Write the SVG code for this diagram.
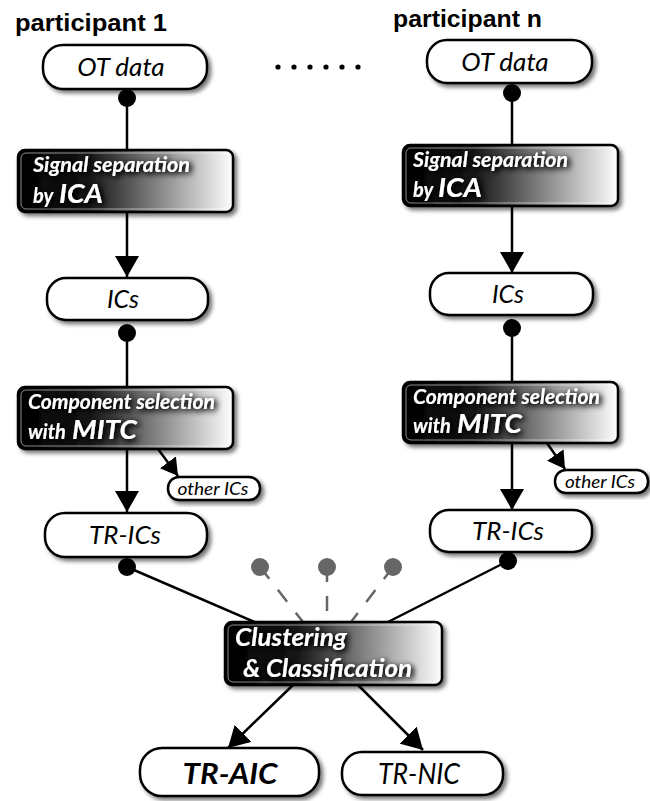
<svg xmlns="http://www.w3.org/2000/svg" width="650" height="801" viewBox="0 0 650 801">
<defs>
<linearGradient id="dark" x1="0" y1="0" x2="1" y2="0">
<stop offset="0" stop-color="#000"/>
<stop offset="0.33" stop-color="#151515"/>
<stop offset="0.97" stop-color="#f4f4f4"/>
<stop offset="1" stop-color="#fafafa"/>
</linearGradient>
<filter id="shadow" x="-10%" y="-20%" width="130%" height="150%">
<feDropShadow dx="3" dy="3" stdDeviation="2" flood-color="#000" flood-opacity="0.55"/>
</filter>
<filter id="glow" x="-20%" y="-40%" width="140%" height="180%">
<feGaussianBlur in="SourceAlpha" stdDeviation="3" result="b"/>
<feOffset in="b" dx="2" dy="2" result="o"/>
<feComponentTransfer in="o" result="o2"><feFuncA type="linear" slope="1.6"/></feComponentTransfer>
<feMerge><feMergeNode in="o2"/><feMergeNode in="SourceGraphic"/></feMerge>
</filter>
<marker id="arr" markerUnits="userSpaceOnUse" markerWidth="24" markerHeight="24" refX="21" refY="12" orient="auto">
<path d="M0,0 L21,12 L0,24 z" fill="#000"/>
</marker>
<marker id="arrs" markerUnits="userSpaceOnUse" markerWidth="20" markerHeight="20" refX="17" refY="10" orient="auto">
<path d="M0,0 L17,10 L0,20 z" fill="#000"/>
</marker>
<style>
.pill{fill:#fff;stroke:#000;stroke-width:2.5;filter:url(#shadow)}
.box{fill:url(#dark);stroke:#000;stroke-width:2.5;filter:url(#shadow)}
.inner{fill:none;stroke:#fff;stroke-opacity:0.55;stroke-width:1}
.pt{font-family:Lato,"Open Sans",sans-serif;font-style:italic;fill:#000;text-anchor:middle}
.bt{font-family:Lato,"Open Sans",sans-serif;font-style:italic;font-weight:bold;fill:#fff;filter:url(#glow)}
.hd{font-family:"Liberation Sans",Arial,sans-serif;font-weight:bold;font-size:24px;fill:#000}
.ln{stroke:#000;stroke-width:2.5;fill:none}
.ga{stroke:#666;stroke-width:2.5;fill:none;stroke-dasharray:15 14}
</style>
</defs>

<text class="hd" x="15" y="31" textLength="152" lengthAdjust="spacingAndGlyphs">participant 1</text>
<text class="hd" x="393" y="27" textLength="149" lengthAdjust="spacingAndGlyphs">participant n</text>
<g id="ellipsis" fill="#000">
<circle cx="278" cy="67" r="2.6"/><circle cx="294" cy="67" r="2.6"/><circle cx="310" cy="67" r="2.6"/><circle cx="326" cy="67" r="2.6"/><circle cx="342" cy="67" r="2.6"/><circle cx="358" cy="67" r="2.6"/>
</g>

<g id="connectors">
<line class="ln" x1="127" y1="98" x2="127" y2="150"/>
<line class="ln" x1="127" y1="212" x2="127" y2="277" marker-end="url(#arr)"/>
<line class="ln" x1="127" y1="333" x2="127" y2="387"/>
<line class="ln" x1="127" y1="449" x2="127" y2="512" marker-end="url(#arr)"/>
<line class="ln" x1="158" y1="449" x2="178" y2="476" marker-end="url(#arrs)"/>
<line class="ln" x1="127" y1="567" x2="257" y2="623"/>
<line class="ln" x1="512" y1="93" x2="512" y2="145"/>
<line class="ln" x1="512" y1="206" x2="512" y2="273" marker-end="url(#arr)"/>
<line class="ln" x1="512" y1="328" x2="512" y2="382"/>
<line class="ln" x1="512" y1="443" x2="512" y2="510" marker-end="url(#arr)"/>
<line class="ln" x1="547" y1="443" x2="565" y2="469" marker-end="url(#arrs)"/>
<line class="ln" x1="508" y1="561" x2="386" y2="623"/>
<line class="ga" x1="260" y1="567" x2="303" y2="622"/>
<line class="ga" x1="327" y1="567" x2="327" y2="622"/>
<line class="ga" x1="393" y1="567" x2="351" y2="622"/>
<line class="ln" x1="293" y1="685" x2="228" y2="748" marker-end="url(#arr)"/>
<line class="ln" x1="358" y1="685" x2="423" y2="750" marker-end="url(#arr)"/>
<circle cx="127" cy="98" r="9" fill="#000"/>
<circle cx="127" cy="333" r="9" fill="#000"/>
<circle cx="127" cy="567" r="9" fill="#000"/>
<circle cx="512" cy="93" r="9" fill="#000"/>
<circle cx="512" cy="328" r="9" fill="#000"/>
<circle cx="508" cy="561" r="9" fill="#000"/>
<circle cx="260" cy="567" r="9" fill="#666"/>
<circle cx="327" cy="567" r="9" fill="#666"/>
<circle cx="393" cy="567" r="9" fill="#666"/>
</g>

<g id="ot1"><rect class="pill" x="43" y="45" width="164" height="44" rx="20"/><text class="pt" x="121" y="76" font-size="26">OT data</text></g>
<g id="otn"><rect class="pill" x="427" y="40" width="165" height="43" rx="20"/><text class="pt" x="505" y="71" font-size="26">OT data</text></g>

<g id="ica1"><rect class="box" x="18" y="150" width="215" height="62" rx="7"/><rect class="inner" x="21" y="153" width="209" height="56" rx="5"/>
<text class="bt"><tspan x="33" y="172" font-size="20" textLength="157" lengthAdjust="spacingAndGlyphs">Signal separation</tspan><tspan x="33" y="203" font-size="20">by</tspan><tspan x="59" y="203" font-size="26" textLength="44" lengthAdjust="spacingAndGlyphs">ICA</tspan></text></g>
<g id="ican"><rect class="box" x="403" y="145" width="215" height="61" rx="7"/><rect class="inner" x="406" y="148" width="209" height="55" rx="5"/>
<text class="bt"><tspan x="413" y="167" font-size="20" textLength="155" lengthAdjust="spacingAndGlyphs">Signal separation</tspan><tspan x="413" y="197" font-size="20">by</tspan><tspan x="438" y="197" font-size="26" textLength="44" lengthAdjust="spacingAndGlyphs">ICA</tspan></text></g>

<g id="ics1"><rect class="pill" x="47" y="278" width="161" height="42" rx="19"/><text class="pt" x="123" y="308" font-size="25">ICs</text></g>
<g id="icsn"><rect class="pill" x="430" y="273" width="163" height="42" rx="19"/><text class="pt" x="508" y="303" font-size="25">ICs</text></g>

<g id="mitc1"><rect class="box" x="18" y="387" width="215" height="62" rx="7"/><rect class="inner" x="21" y="390" width="209" height="56" rx="5"/>
<text class="bt"><tspan x="28" y="409" font-size="20" textLength="187" lengthAdjust="spacingAndGlyphs">Component selection</tspan><tspan x="28" y="439" font-size="20">with</tspan><tspan x="72" y="439" font-size="26" textLength="65" lengthAdjust="spacingAndGlyphs">MITC</tspan></text></g>
<g id="mitcn"><rect class="box" x="403" y="382" width="215" height="61" rx="7"/><rect class="inner" x="406" y="385" width="209" height="55" rx="5"/>
<text class="bt"><tspan x="413" y="404" font-size="20" textLength="187" lengthAdjust="spacingAndGlyphs">Component selection</tspan><tspan x="413" y="433" font-size="20">with</tspan><tspan x="457" y="433" font-size="26" textLength="65" lengthAdjust="spacingAndGlyphs">MITC</tspan></text></g>

<g id="other1"><rect class="pill" x="168" y="477" width="92" height="23" rx="11" stroke-width="2"/><text class="pt" x="213" y="495" font-size="18" textLength="71" lengthAdjust="spacingAndGlyphs">other ICs</text></g>
<g id="othern"><rect class="pill" x="555" y="470" width="93" height="23" rx="11" stroke-width="2"/><text class="pt" x="600" y="488" font-size="18" textLength="70" lengthAdjust="spacingAndGlyphs">other ICs</text></g>

<g id="tr1"><rect class="pill" x="45" y="513" width="162" height="44" rx="20"/><text class="pt" x="125" y="544" font-size="26">TR-ICs</text></g>
<g id="trn"><rect class="pill" x="430" y="510" width="162" height="42" rx="19"/><text class="pt" x="508" y="540" font-size="26">TR-ICs</text></g>

<g id="cluster"><rect class="box" x="225" y="622" width="217" height="63" rx="7"/><rect class="inner" x="228" y="625" width="211" height="57" rx="5"/>
<text class="bt" font-size="25"><tspan x="235" y="646" textLength="112" lengthAdjust="spacingAndGlyphs">Clustering</tspan><tspan x="243" y="677" textLength="169" lengthAdjust="spacingAndGlyphs">&amp; Classification</tspan></text></g>

<g id="aic"><rect class="pill" x="140" y="748" width="179" height="48" rx="22" stroke-width="4"/><text class="pt" x="230" y="784" font-size="29" font-weight="bold" textLength="95" lengthAdjust="spacingAndGlyphs">TR-AIC</text></g>
<g id="nic"><rect class="pill" x="342" y="752" width="161" height="43" rx="20"/><text class="pt" x="419" y="784" font-size="28" textLength="82" lengthAdjust="spacingAndGlyphs">TR-NIC</text></g>
</svg>
